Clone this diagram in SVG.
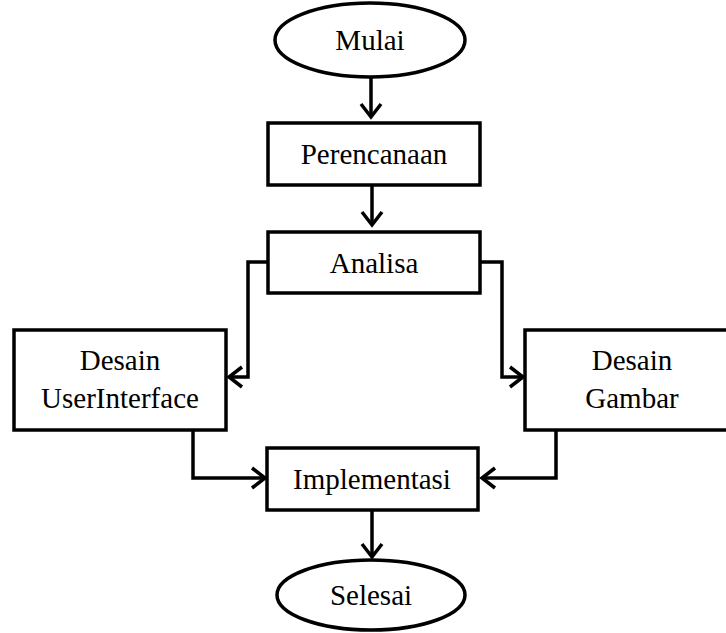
<svg xmlns="http://www.w3.org/2000/svg" width="726" height="633" viewBox="0 0 726 633">
<defs>
<style>
.box{fill:#fff;stroke:#000;stroke-width:3.5}
.lbl{font-family:"Liberation Serif","Times New Roman",serif;font-size:29px;fill:#000;text-anchor:middle;dominant-baseline:central}
.con{fill:none;stroke:#000;stroke-width:3.5;marker-end:url(#arr)}
</style>
<marker id="arr" markerUnits="userSpaceOnUse" markerWidth="30" markerHeight="30" viewBox="-15 -15 30 30" refX="0" refY="0" orient="auto" overflow="visible">
<path d="M-13,-10 L0,0 L-13,10" fill="none" stroke="#000" stroke-width="3.5"/>
</marker>
</defs>
<rect width="726" height="633" fill="#fff"/>
<g id="connectors">
<path class="con" d="M371,77 V117"/>
<path class="con" d="M372,185 V225"/>
<path class="con" d="M268,262 H248 V377 H229"/>
<path class="con" d="M480,262 H502 V377 H523"/>
<path class="con" d="M193,430 V478 H265"/>
<path class="con" d="M556,430 V478 H482"/>
<path class="con" d="M372,510 V557"/>
</g>
<g id="mulai">
<ellipse class="box" cx="370" cy="40" rx="95" ry="37"/>
<text class="lbl" x="370" y="40">Mulai</text>
</g>
<g id="perencanaan">
<rect class="box" x="268" y="123" width="212" height="62"/>
<text class="lbl" x="374" y="154">Perencanaan</text>
</g>
<g id="analisa">
<rect class="box" x="268" y="232" width="212" height="61"/>
<text class="lbl" x="374" y="263">Analisa</text>
</g>
<g id="desain-ui">
<rect class="box" x="14" y="330" width="212" height="100"/>
<text class="lbl" x="120" y="360">Desain</text>
<text class="lbl" x="120" y="398">UserInterface</text>
</g>
<g id="desain-gambar">
<rect class="box" x="525" y="330" width="214" height="100"/>
<text class="lbl" x="632" y="360">Desain</text>
<text class="lbl" x="632" y="398">Gambar</text>
</g>
<g id="implementasi">
<rect class="box" x="267" y="448" width="211" height="62"/>
<text class="lbl" x="372" y="479">Implementasi</text>
</g>
<g id="selesai">
<ellipse class="box" cx="371" cy="595" rx="94" ry="35"/>
<text class="lbl" x="371" y="595">Selesai</text>
</g>
</svg>
